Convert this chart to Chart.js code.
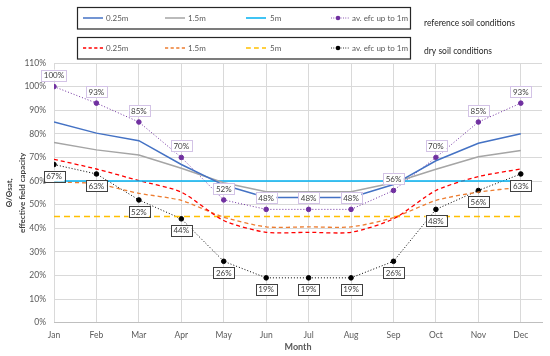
<!DOCTYPE html>
<html>
<head>
<meta charset="utf-8">
<script src="https://cdn.jsdelivr.net/npm/chart.js@4/dist/chart.umd.min.js"></script>
<style>
  body { margin: 0; background: #fff; }
  canvas { display: block; }
</style>
</head>
<body>
<canvas id="soilChart" width="550" height="356"></canvas>
<script>
// datos (%)
const months = ["Jan", "Feb", "Mar", "Apr", "May", "Jun", "Jul", "Aug", "Sep", "Oct", "Nov", "Dec"];
const ref025 = [85, 80.3, 77.1, 67, 58.3, 53, 53, 53, 58.5, 68.6, 76, 80];
const ref15 = [76.3, 73.2, 71, 65.4, 59.3, 55.5, 55.5, 55.5, 59.3, 65, 70.3, 72.9];
const ref5 = [60, 60, 60, 60, 60, 60, 60, 60, 60, 60, 60, 60];
const refAv = [100, 93, 85, 70, 52, 48, 48, 48, 56, 70, 85, 93];
const dry025 = [69.2, 65.1, 60.2, 55.3, 43.3, 38.3, 38.3, 38.3, 44, 56, 61.9, 65.1];
const dry15 = [59.7, 58.8, 54.8, 51.8, 44.7, 40.6, 40.6, 40.6, 44.5, 51.8, 55.3, 57.4];
const dry5 = [45, 45, 45, 45, 45, 45, 45, 45, 45, 45, 45, 45];
const dryAv = [67, 63, 52, 44, 26, 19, 19, 19, 26, 48, 56, 63];
const yTicks = [0, 10, 20, 30, 40, 50, 60, 70, 80, 90, 100, 110];

const FONT = "Lato, 'Open Sans', sans-serif";
const pts = arr => arr.map((v, i) => ({ x: i, y: v }));

function serie(label, data, color, extra) {
  return Object.assign({
    label: label,
    data: pts(data),
    borderColor: color,
    backgroundColor: color,
    borderWidth: 1.5,
    pointRadius: 0,
    tension: 0,
    fill: false
  }, extra || {});
}

const datasets = [
  serie("0.25m", ref025, "#4472C4"),
  serie("1.5m", ref15, "#A5A5A5"),
  serie("5m", ref5, "#00B0F0"),
  serie("av. efc up to 1m", refAv, "#7030A0", { borderWidth: 1, borderDash: [1, 2], pointRadius: 2.3, labelPos: "above", boxColor: "#D3C3E6" }),
  serie("0.25m", dry025, "#FF0000", { borderWidth: 1.3, borderDash: [4, 3], tension: 0.25 }),
  serie("1.5m", dry15, "#ED7D31", { borderWidth: 1.3, borderDash: [4, 3], tension: 0.25 }),
  serie("5m", dry5, "#FFC000", { borderWidth: 1.4, borderDash: [6, 4] }),
  serie("av. efc up to 1m", dryAv, "#000000", { borderWidth: 1, borderDash: [1, 2], pointRadius: 2.3, labelPos: "below", boxColor: "#404040" })
];

// etiquetas con recuadro para las series "av. efc"
const boxLabels = {
  id: "boxLabels",
  afterDatasetsDraw(chart) {
    const ctx = chart.ctx;
    ctx.save();
    ctx.font = "8px " + FONT;
    ctx.textAlign = "center";
    ctx.textBaseline = "middle";
    chart.data.datasets.forEach((ds, i) => {
      if (!ds.labelPos) return;
      const meta = chart.getDatasetMeta(i);
      meta.data.forEach((p, j) => {
        const txt = Math.round(ds.data[j].y) + "%";
        const w = ctx.measureText(txt).width + 5;
        const h = 11;
        const cy = p.y + (ds.labelPos === "above" ? -11.5 : 11.5);
        ctx.fillStyle = "#fff";
        ctx.fillRect(p.x - w / 2, cy - h / 2, w, h);
        ctx.strokeStyle = ds.boxColor;
        ctx.lineWidth = 1;
        ctx.strokeRect(Math.round(p.x - w / 2) + 0.5, Math.round(cy - h / 2) + 0.5, Math.round(w), h);
        ctx.fillStyle = "#404040";
        ctx.fillText(txt, p.x, cy + 0.5);
      });
    });
    ctx.restore();
  }
};

// leyenda en dos cajas
const twoBoxLegend = {
  id: "twoBoxLegend",
  afterDraw(chart) {
    const ctx = chart.ctx;
    const sampleX = [83, 165, 246, 331];
    const textX = [106, 188, 270, 352];
    const rows = [
      { y: 18, top: 7.5, ds: [0, 1, 2, 3], note: "reference soil conditions", noteY: 23 },
      { y: 48, top: 37.5, ds: [4, 5, 6, 7], note: "dry soil conditions", noteY: 51 }
    ];
    ctx.save();
    rows.forEach(r => {
      ctx.strokeStyle = "#262626";
      ctx.lineWidth = 1.2;
      ctx.setLineDash([]);
      ctx.strokeRect(77.5, r.top, 333, 21.5);
      r.ds.forEach((di, k) => {
        const ds = chart.data.datasets[di];
        const len = di === 3 || di === 7 ? 18 : 20;
        ctx.strokeStyle = ds.borderColor;
        ctx.lineWidth = ds.borderWidth;
        ctx.setLineDash(ds.borderDash ? ds.borderDash.map(d => d * 0.8) : []);
        ctx.beginPath();
        ctx.moveTo(sampleX[k], r.y);
        ctx.lineTo(sampleX[k] + len, r.y);
        ctx.stroke();
        if (ds.pointRadius) {
          ctx.fillStyle = ds.borderColor;
          ctx.beginPath();
          ctx.arc(sampleX[k] + 7, r.y, 2.3, 0, Math.PI * 2);
          ctx.fill();
        }
        ctx.setLineDash([]);
        ctx.fillStyle = "#595959";
        ctx.font = "8px " + FONT;
        ctx.textAlign = "left";
        ctx.textBaseline = "middle";
        ctx.fillText(ds.label, textX[k], r.y + 0.5);
      });
      ctx.fillStyle = "#262626";
      ctx.font = "8.5px " + FONT;
      ctx.fillText(r.note, 424, r.noteY);
    });
    ctx.restore();
  }
};

const chart = new Chart(document.getElementById("soilChart"), {
  type: "line",
  data: { datasets: datasets },
  plugins: [boxLabels, twoBoxLegend],
  options: {
    responsive: false,
    animation: false,
    layout: { padding: { top: 63, right: 8, left: 0, bottom: 0 } },
    plugins: { legend: { display: false }, tooltip: { enabled: false } },
    scales: {
      x: {
        type: "linear",
        min: 0,
        max: 11.5,
        afterBuildTicks: s => { s.ticks = months.map((m, i) => ({ value: i })); },
        afterFit: s => { s.height = 33.3; },
        grid: { color: "#D9D9D9", drawTicks: false },
        border: { color: "#BFBFBF" },
        ticks: {
          autoSkip: false,
          maxRotation: 0,
          padding: 7,
          color: "#595959",
          font: { family: FONT, size: 8.5 },
          callback: v => months[v]
        },
        title: {
          display: true,
          text: "Month",
          color: "#595959",
          font: { family: FONT, size: 9, weight: "bold" },
          padding: { top: 0, bottom: 4 }
        }
      },
      y: {
        min: 0,
        max: 110,
        afterFit: s => { s.width = 54; },
        grid: { color: "#D9D9D9", drawTicks: false },
        border: { display: false },
        ticks: {
          stepSize: 5,
          padding: 8,
          color: "#595959",
          font: { family: FONT, size: 8.5 },
          callback: v => (yTicks.includes(v) ? v + "%" : "")
        },
        title: {
          display: true,
          text: ["Θ/Θsat,", "effective field capacity"],
          color: "#404040",
          font: { family: FONT, size: 8, weight: "bold", lineHeight: 1.6 },
          padding: { top: 3, bottom: 0 }
        }
      }
    }
  }
});
</script>
</body>
</html>
